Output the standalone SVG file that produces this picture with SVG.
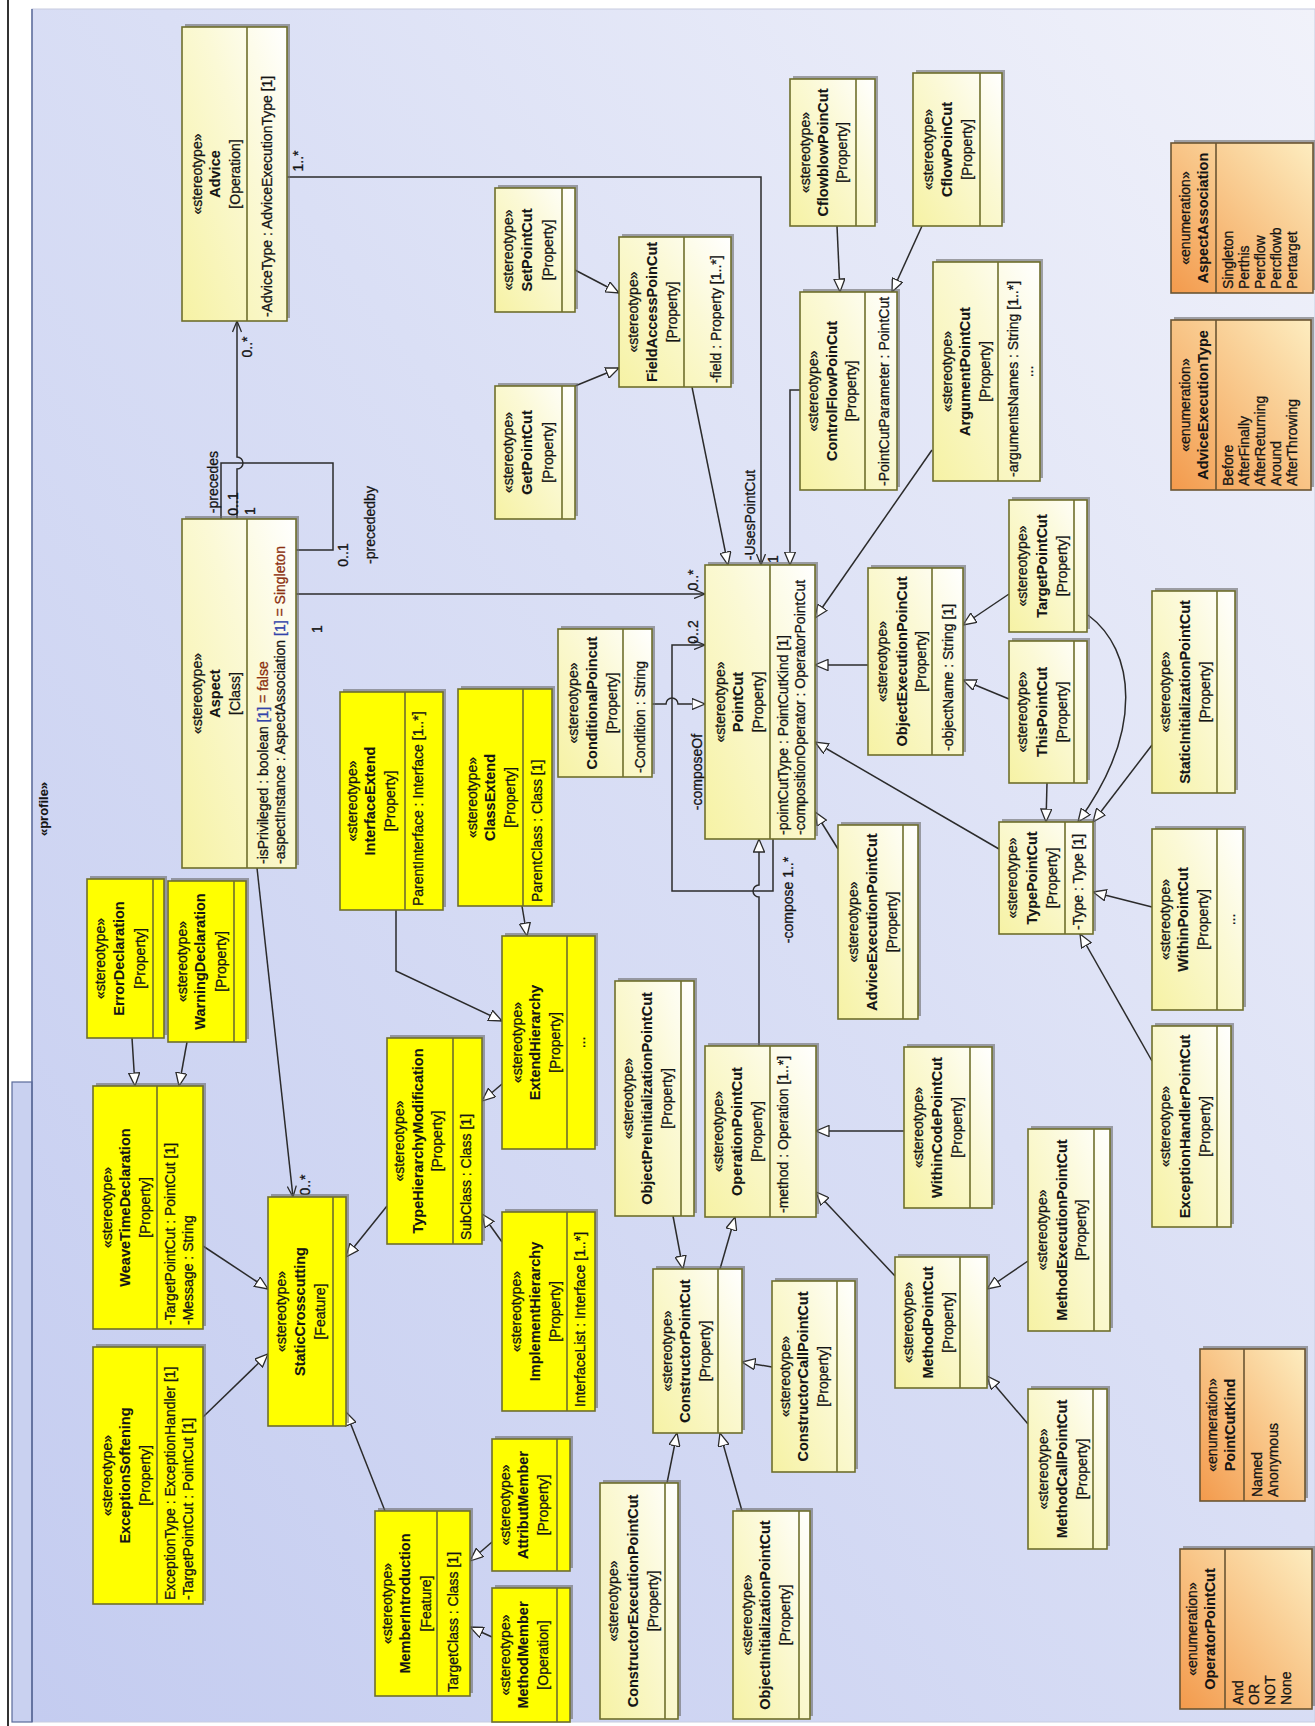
<svg xmlns="http://www.w3.org/2000/svg" width="1315" height="1726" viewBox="0 0 1315 1726">
<defs>
<linearGradient id="bg" x1="0" y1="1" x2="1" y2="0">
<stop offset="0" stop-color="#c4ccf0"/><stop offset="0.55" stop-color="#dadff5"/><stop offset="1" stop-color="#f1f2fa"/>
</linearGradient>
<linearGradient id="gp" x1="0" y1="0" x2="1" y2="1">
<stop offset="0" stop-color="#f6f2a4"/><stop offset="0.6" stop-color="#fbf9d6"/><stop offset="1" stop-color="#ffffff"/>
</linearGradient>
<linearGradient id="ge" x1="0" y1="0" x2="1" y2="1">
<stop offset="0" stop-color="#f39a4c"/><stop offset="0.5" stop-color="#f8c486"/><stop offset="1" stop-color="#fdedc0"/>
</linearGradient>
<marker id="gen" viewBox="0 0 14 12" refX="13.5" refY="6" markerWidth="14" markerHeight="12" markerUnits="userSpaceOnUse" orient="auto">
<path d="M0.5,0.5 L13.5,6 L0.5,11.5 Z" fill="#ffffff" stroke="#2b2b2b" stroke-width="1.3"/>
</marker>
<marker id="opn" viewBox="0 0 12 10" refX="11.5" refY="5" markerWidth="12" markerHeight="10" markerUnits="userSpaceOnUse" orient="auto">
<path d="M0.5,0.5 L11.5,5 L0.5,9.5" fill="none" stroke="#2b2b2b" stroke-width="1.3"/>
</marker>
</defs>
<style>
text{font-family:"Liberation Sans",Arial,sans-serif;font-size:14px;fill:#141414;stroke:#141414;stroke-width:0.3;text-anchor:middle;dominant-baseline:central}
.n{font-weight:bold;font-size:14.5px;stroke-width:0.1}
.a{text-anchor:start}
.sh{fill:#6a6a6a;opacity:.6}
.p{fill:url(#gp);stroke:#6f6f2c;stroke-width:1.6}
.y{fill:#ffff00;stroke:#6f6f2c;stroke-width:1.6}
.e{fill:url(#ge);stroke:#6b5533;stroke-width:1.6}
.d{stroke:#6f6f2c;stroke-width:1.6}
.de{stroke:#6b5533;stroke-width:1.6}
.c{fill:none;stroke:#2b2b2b;stroke-width:1.5}
.g{marker-end:url(#gen)}
.o{marker-end:url(#opn)}
.blue{fill:#3344aa;stroke:#3344aa}
.red{fill:#8b3010;stroke:#8b3010}
</style>

<!-- frame -->
<rect x="0" y="0" width="1315" height="1726" fill="#ffffff"/>
<rect x="32" y="9" width="1283" height="1713" fill="url(#bg)" stroke="#c8cce0" stroke-width="1"/>
<line x1="8" y1="0" x2="8" y2="1726" stroke="#333333" stroke-width="2"/>
<rect x="12" y="1082" width="20" height="640" fill="#c9d1f0" stroke="#5a6a9a" stroke-width="1.2"/>
<line x1="32" y1="9" x2="32" y2="1722" stroke="#5a6a9a" stroke-width="1.5"/>
<text class="n" x="43" y="809" transform="rotate(-90 43 809)" style="font-size:13px">«profile»</text>

<!-- connectors -->
<g id="connectors">
<path class="c g" d="M575,270 L619,293"/>
<path class="c g" d="M575,386 L619,368"/>
<path class="c g" d="M692,387 L728,565"/>
<path class="c g" d="M837,226 L840,292"/>
<path class="c g" d="M922,226 L892,292"/>
<path class="c g" d="M800,390 H790 V565"/>
<path class="c g" d="M932,450 L815,618"/>
<path class="c g" d="M868,665 L815,665"/>
<path class="c g" d="M1009,594 L963,625"/>
<path class="c g" d="M1009,699 L963,680"/>
<path class="c g" d="M1047,783 L1046,822"/>
<path class="c g" d="M1088,615 C1135,650 1145,730 1078,822"/>
<path class="c g" d="M1152,745 L1093,822"/>
<path class="c g" d="M1152,907 L1093,892"/>
<path class="c g" d="M1152,1061 L1080,934"/>
<path class="c g" d="M999,849 L815,742"/>
<path class="c g" d="M838,849 L815,812"/>
<path class="c g" d="M652,704 H666 A6,6 0 0 1 678,704 H705"/>
<path class="c g" d="M759,1046 V897 A6,6 0 0 1 759,885 V839"/>
<path class="c g" d="M904,1131 L816,1131"/>
<path class="c g" d="M895,1276 L816,1192"/>
<path class="c g" d="M1028,1261 L987,1289"/>
<path class="c g" d="M1028,1424 L987,1376"/>
<path class="c g" d="M673,1216 L683,1269"/>
<path class="c g" d="M720,1269 L735,1217"/>
<path class="c g" d="M772,1367 L742,1362"/>
<path class="c g" d="M667,1483 L677,1433"/>
<path class="c g" d="M742,1511 L720,1433"/>
<path class="c g" d="M522,906 L527,936"/>
<path class="c g" d="M396,910 V971 L502,1021"/>
<path class="c g" d="M502,1084 L482,1101"/>
<path class="c g" d="M502,1242 L482,1214"/>
<path class="c g" d="M387,1206 L346,1257"/>
<path class="c g" d="M203,1246 L268,1289"/>
<path class="c g" d="M203,1417 L268,1354"/>
<path class="c g" d="M385,1511 L346,1412"/>
<path class="c g" d="M132,1038 L135,1086"/>
<path class="c g" d="M187,1042 L179,1086"/>
<path class="c g" d="M492,1542 L470,1561"/>
<path class="c g" d="M492,1637 L470,1627"/>
<path class="c o" d="M237,519 V469 A6,6 0 0 0 237,457 V321"/>
<path class="c o" d="M296,594 H705"/>
<path class="c o" d="M287,177 H761 V565"/>
<path class="c" d="M221,519 V463 H333 V550 H296"/>
<path class="c o" d="M773,839 V891 H672 V645 H705"/>
<path class="c o" d="M257,868 L293,1197"/>
<text x="298" y="161" transform="rotate(-90 298 161)">1..*</text>
<text x="247" y="347" transform="rotate(-90 247 347)">0..*</text>
<text x="213" y="482" transform="rotate(-90 213 482)">-precedes</text>
<text x="233" y="504" transform="rotate(-90 233 504)">0..1</text>
<text x="250" y="511" transform="rotate(-90 250 511)">1</text>
<text x="343" y="555" transform="rotate(-90 343 555)">0..1</text>
<text x="370" y="525" transform="rotate(-90 370 525)">-precededby</text>
<text x="317" y="629" transform="rotate(-90 317 629)">1</text>
<text x="693" y="580" transform="rotate(-90 693 580)">0..*</text>
<text x="750" y="515" transform="rotate(-90 750 515)">-UsesPointCut</text>
<text x="773" y="559" transform="rotate(-90 773 559)">1</text>
<text x="693" y="632" transform="rotate(-90 693 632)">0..2</text>
<text x="697" y="772" transform="rotate(-90 697 772)">-composeOf</text>
<text x="788" y="900" transform="rotate(-90 788 900)">-compose 1..*</text>
<text x="305" y="1185" transform="rotate(-90 305 1185)">0..*</text>
</g>

<!-- nodes: local frame x = up along box, y = right -->
<g id="advice" transform="translate(182,321) rotate(-90)">
<rect class="sh" x="3" y="3" width="294" height="105"/><rect class="p" width="294" height="105"/><line class="d" x1="0" y1="65" x2="294" y2="65"/>
<text x="147" y="15">«stereotype»</text><text class="n" x="147" y="33">Advice</text><text x="147" y="53">[Operation]</text>
<text class="a" x="4" y="85">-AdviceType : AdviceExecutionType [1]</text>
</g>
<g id="aspect" transform="translate(182,868) rotate(-90)">
<rect class="sh" x="3" y="3" width="349" height="114"/><rect class="p" width="349" height="114"/><line class="d" x1="0" y1="65" x2="349" y2="65"/>
<text x="174.5" y="15">«stereotype»</text><text class="n" x="174.5" y="33">Aspect</text><text x="174.5" y="53">[Class]</text>
<text class="a" x="4" y="81">-isPrivileged : boolean <tspan class="blue">[1]</tspan> <tspan class="red">= false</tspan></text>
<text class="a" x="4" y="98">-aspectInstance : AspectAssociation <tspan class="blue">[1]</tspan> <tspan class="red">= Singleton</tspan></text>
</g>
<g id="setpointcut" transform="translate(495,312) rotate(-90)">
<rect class="sh" x="3" y="3" width="124" height="80"/><rect class="p" width="124" height="80"/><line class="d" x1="0" y1="67" x2="124" y2="67"/>
<text x="62" y="13">«stereotype»</text><text class="n" x="62" y="32">SetPointCut</text><text x="62" y="53">[Property]</text>
</g>
<g id="getpointcut" transform="translate(495,519) rotate(-90)">
<rect class="sh" x="3" y="3" width="133" height="80"/><rect class="p" width="133" height="80"/><line class="d" x1="0" y1="67" x2="133" y2="67"/>
<text x="66.5" y="13">«stereotype»</text><text class="n" x="66.5" y="32">GetPointCut</text><text x="66.5" y="53">[Property]</text>
</g>
<g id="fieldaccesspoincut" transform="translate(619,387) rotate(-90)">
<rect class="sh" x="3" y="3" width="150" height="112"/><rect class="p" width="150" height="112"/><line class="d" x1="0" y1="65" x2="150" y2="65"/>
<text x="75" y="14">«stereotype»</text><text class="n" x="75" y="33">FieldAccessPoinCut</text><text x="75" y="53">[Property]</text>
<text class="a" x="4" y="97">-field : Property [1..*]</text>
</g>
<g id="cflowblowpoincut" transform="translate(790,226) rotate(-90)">
<rect class="sh" x="3" y="3" width="147" height="85"/><rect class="p" width="147" height="85"/><line class="d" x1="0" y1="66" x2="147" y2="66"/>
<text x="73.5" y="15">«stereotype»</text><text class="n" x="73.5" y="33">CflowblowPoinCut</text><text x="73.5" y="52">[Property]</text>
</g>
<g id="cflowpoincut" transform="translate(913,226) rotate(-90)">
<rect class="sh" x="3" y="3" width="153" height="89"/><rect class="p" width="153" height="89"/><line class="d" x1="0" y1="67" x2="153" y2="67"/>
<text x="76.5" y="15">«stereotype»</text><text class="n" x="76.5" y="34">CflowPoinCut</text><text x="76.5" y="54">[Property]</text>
</g>
<g id="controlflowpoincut" transform="translate(800,490) rotate(-90)">
<rect class="sh" x="3" y="3" width="198" height="97"/><rect class="p" width="198" height="97"/><line class="d" x1="0" y1="65" x2="198" y2="65"/>
<text x="99" y="13">«stereotype»</text><text class="n" x="99" y="32">ControlFlowPoinCut</text><text x="99" y="51">[Property]</text>
<text class="a" x="4" y="84">-PointCutParameter : PointCut</text>
</g>
<g id="argumentpointcut" transform="translate(933,481) rotate(-90)">
<rect class="sh" x="3" y="3" width="219" height="107"/><rect class="p" width="219" height="107"/><line class="d" x1="0" y1="65" x2="219" y2="65"/>
<text x="109.5" y="14">«stereotype»</text><text class="n" x="109.5" y="32">ArgumentPointCut</text><text x="109.5" y="52">[Property]</text>
<text class="a" x="4" y="80">-argumentsNames : String [1..*]</text>
<text x="109.5" y="95">...</text>
</g>
<g id="aspectassociation" transform="translate(1171,293) rotate(-90)">
<rect class="sh" x="3" y="3" width="150" height="142"/><rect class="e" width="150" height="142"/><line class="de" x1="0" y1="45" x2="150" y2="45"/>
<text x="75" y="14">«enumeration»</text><text class="n" x="75" y="32">AspectAssociation</text>
<text class="a" x="4" y="57">Singleton</text><text class="a" x="4" y="73">Perthis</text><text class="a" x="4" y="89">Percflow</text><text class="a" x="4" y="105">Percflowb</text><text class="a" x="4" y="121">Pertarget</text>
</g>
<g id="adviceexecutiontype" transform="translate(1171,490) rotate(-90)">
<rect class="sh" x="3" y="3" width="170" height="140"/><rect class="e" width="170" height="140"/><line class="de" x1="0" y1="45" x2="170" y2="45"/>
<text x="85" y="14">«enumeration»</text><text class="n" x="85" y="32">AdviceExecutionType</text>
<text class="a" x="4" y="57">Before</text><text class="a" x="4" y="73">AfterFinally</text><text class="a" x="4" y="89">AfterReturning</text><text class="a" x="4" y="105">Around</text><text class="a" x="4" y="121">AfterThrowing</text>
</g>
<g id="pointcut" transform="translate(705,839) rotate(-90)">
<rect class="sh" x="3" y="3" width="274" height="110"/><rect class="p" width="274" height="110"/><line class="d" x1="0" y1="65" x2="274" y2="65"/>
<text x="137" y="15">«stereotype»</text><text class="n" x="137" y="33">PointCut</text><text x="137" y="53">[Property]</text>
<text class="a" x="4" y="78">-pointCutType : PointCutKind [1]</text>
<text class="a" x="4" y="95">-compositionOperator : OperatorPointCut</text>
</g>
<g id="conditionalpoincut" transform="translate(558,777) rotate(-90)">
<rect class="sh" x="3" y="3" width="148" height="94"/><rect class="p" width="148" height="94"/><line class="d" x1="0" y1="65" x2="148" y2="65"/>
<text x="74" y="15">«stereotype»</text><text class="n" x="74" y="34">ConditionalPoincut</text><text x="74" y="54">[Property]</text>
<text class="a" x="4" y="82">-Condition : String</text>
</g>
<g id="interfaceextend" transform="translate(340,910) rotate(-90)">
<rect class="sh" x="3" y="3" width="218" height="103"/><rect class="y" width="218" height="103"/><line class="d" x1="0" y1="65" x2="218" y2="65"/>
<text x="109" y="12">«stereotype»</text><text class="n" x="109" y="30">InterfaceExtend</text><text x="109" y="50">[Property]</text>
<text class="a" x="4" y="78">ParentInterface : Interface [1..*]</text>
</g>
<g id="classextend" transform="translate(458,906) rotate(-90)">
<rect class="sh" x="3" y="3" width="217" height="94"/><rect class="y" width="217" height="94"/><line class="d" x1="0" y1="65" x2="217" y2="65"/>
<text x="108.5" y="14">«stereotype»</text><text class="n" x="108.5" y="32">ClassExtend</text><text x="108.5" y="52">[Property]</text>
<text class="a" x="4" y="79">ParentClass : Class [1]</text>
</g>
<g id="objectexecutionpoincut" transform="translate(868,755) rotate(-90)">
<rect class="sh" x="3" y="3" width="187" height="95"/><rect class="p" width="187" height="95"/><line class="d" x1="0" y1="64" x2="187" y2="64"/>
<text x="93.5" y="14">«stereotype»</text><text class="n" x="93.5" y="34">ObjectExecutionPoinCut</text><text x="93.5" y="53">[Property]</text>
<text class="a" x="4" y="80">-objectName : String [1]</text>
</g>
<g id="targetpointcut" transform="translate(1009,632) rotate(-90)">
<rect class="sh" x="3" y="3" width="132" height="78"/><rect class="p" width="132" height="78"/><line class="d" x1="0" y1="65" x2="132" y2="65"/>
<text x="66" y="13">«stereotype»</text><text class="n" x="66" y="33">TargetPointCut</text><text x="66" y="53">[Property]</text>
</g>
<g id="thispointcut" transform="translate(1009,783) rotate(-90)">
<rect class="sh" x="3" y="3" width="142" height="78"/><rect class="p" width="142" height="78"/><line class="d" x1="0" y1="65" x2="142" y2="65"/>
<text x="71" y="13">«stereotype»</text><text class="n" x="71" y="33">ThisPointCut</text><text x="71" y="53">[Property]</text>
</g>
<g id="staticinitializationpointcut" transform="translate(1152,793) rotate(-90)">
<rect class="sh" x="3" y="3" width="202" height="83"/><rect class="p" width="202" height="83"/><line class="d" x1="0" y1="65" x2="202" y2="65"/>
<text x="101" y="13">«stereotype»</text><text class="n" x="101" y="33">StaticInitializationPointCut</text><text x="101" y="53">[Property]</text>
</g>
<g id="typepointcut" transform="translate(999,934) rotate(-90)">
<rect class="sh" x="3" y="3" width="112" height="94"/><rect class="p" width="112" height="94"/><line class="d" x1="0" y1="66" x2="112" y2="66"/>
<text x="56" y="13">«stereotype»</text><text class="n" x="56" y="33">TypePointCut</text><text x="56" y="53">[Property]</text>
<text class="a" x="4" y="79">-Type : Type [1]</text>
</g>
<g id="withinpointcut" transform="translate(1152,1010) rotate(-90)">
<rect class="sh" x="3" y="3" width="181" height="91"/><rect class="p" width="181" height="91"/><line class="d" x1="0" y1="65" x2="181" y2="65"/>
<text x="90.5" y="13">«stereotype»</text><text class="n" x="90.5" y="31">WithinPointCut</text><text x="90.5" y="51">[Property]</text>
<text x="90.5" y="78">...</text>
</g>
<g id="exceptionhandlerpointcut" transform="translate(1152,1227) rotate(-90)">
<rect class="sh" x="3" y="3" width="201" height="79"/><rect class="p" width="201" height="79"/><line class="d" x1="0" y1="65" x2="201" y2="65"/>
<text x="100.5" y="13">«stereotype»</text><text class="n" x="100.5" y="33">ExceptionHandlerPointCut</text><text x="100.5" y="53">[Property]</text>
</g>
<g id="adviceexecutionpointcut" transform="translate(838,1019) rotate(-90)">
<rect class="sh" x="3" y="3" width="194" height="80"/><rect class="p" width="194" height="80"/><line class="d" x1="0" y1="65" x2="194" y2="65"/>
<text x="97" y="15">«stereotype»</text><text class="n" x="97" y="34">AdviceExecutionPointCut</text><text x="97" y="54">[Property]</text>
</g>
<g id="withincodepointcut" transform="translate(904,1208) rotate(-90)">
<rect class="sh" x="3" y="3" width="161" height="88"/><rect class="p" width="161" height="88"/><line class="d" x1="0" y1="66" x2="161" y2="66"/>
<text x="80.5" y="14">«stereotype»</text><text class="n" x="80.5" y="33">WithinCodePointCut</text><text x="80.5" y="53">[Property]</text>
</g>
<g id="operationpointcut" transform="translate(705,1217) rotate(-90)">
<rect class="sh" x="3" y="3" width="171" height="111"/><rect class="p" width="171" height="111"/><line class="d" x1="0" y1="65" x2="171" y2="65"/>
<text x="85.5" y="13">«stereotype»</text><text class="n" x="85.5" y="32">OperationPointCut</text><text x="85.5" y="52">[Property]</text>
<text class="a" x="4" y="78">-method : Operation [1..*]</text>
</g>
<g id="objectpreinitializationpointcut" transform="translate(615,1216) rotate(-90)">
<rect class="sh" x="3" y="3" width="235" height="79"/><rect class="p" width="235" height="79"/><line class="d" x1="0" y1="66" x2="235" y2="66"/>
<text x="117.5" y="13">«stereotype»</text><text class="n" x="117.5" y="32">ObjectPreInitializationPointCut</text><text x="117.5" y="52">[Property]</text>
</g>
<g id="extendhierarchy" transform="translate(502,1149) rotate(-90)">
<rect class="sh" x="3" y="3" width="213" height="93"/><rect class="y" width="213" height="93"/><line class="d" x1="0" y1="65" x2="213" y2="65"/>
<text x="106.5" y="15">«stereotype»</text><text class="n" x="106.5" y="33">ExtendHierarchy</text><text x="106.5" y="53">[Property]</text>
<text x="106.5" y="78">...</text>
</g>
<g id="typehierarchymodification" transform="translate(387,1244) rotate(-90)">
<rect class="sh" x="3" y="3" width="206" height="95"/><rect class="y" width="206" height="95"/><line class="d" x1="0" y1="66" x2="206" y2="66"/>
<text x="103" y="12">«stereotype»</text><text class="n" x="103" y="31">TypeHierarchyModification</text><text x="103" y="50">[Property]</text>
<text class="a" x="4" y="79">SubClass : Class [1]</text>
</g>
<g id="implementhierarchy" transform="translate(502,1411) rotate(-90)">
<rect class="sh" x="3" y="3" width="199" height="93"/><rect class="y" width="199" height="93"/><line class="d" x1="0" y1="65" x2="199" y2="65"/>
<text x="99.5" y="14">«stereotype»</text><text class="n" x="99.5" y="33">ImplementHierarchy</text><text x="99.5" y="53">[Property]</text>
<text class="a" x="4" y="78">InterfaceList : Interface [1..*]</text>
</g>
<g id="constructorpointcut" transform="translate(653,1433) rotate(-90)">
<rect class="sh" x="3" y="3" width="164" height="89"/><rect class="p" width="164" height="89"/><line class="d" x1="0" y1="65" x2="164" y2="65"/>
<text x="82" y="14">«stereotype»</text><text class="n" x="82" y="32">ConstructorPointCut</text><text x="82" y="52">[Property]</text>
</g>
<g id="constructorcallpointcut" transform="translate(772,1472) rotate(-90)">
<rect class="sh" x="3" y="3" width="191" height="83"/><rect class="p" width="191" height="83"/><line class="d" x1="0" y1="65" x2="191" y2="65"/>
<text x="95.5" y="13">«stereotype»</text><text class="n" x="95.5" y="31">ConstructorCallPointCut</text><text x="95.5" y="51">[Property]</text>
</g>
<g id="constructorexecutionpointcut" transform="translate(600,1719) rotate(-90)">
<rect class="sh" x="3" y="3" width="236" height="78"/><rect class="p" width="236" height="78"/><line class="d" x1="0" y1="65" x2="236" y2="65"/>
<text x="118" y="13">«stereotype»</text><text class="n" x="118" y="33">ConstructorExecutionPointCut</text><text x="118" y="53">[Property]</text>
</g>
<g id="objectinitializationpointcut" transform="translate(733,1719) rotate(-90)">
<rect class="sh" x="3" y="3" width="208" height="77"/><rect class="p" width="208" height="77"/><line class="d" x1="0" y1="66" x2="208" y2="66"/>
<text x="104" y="14">«stereotype»</text><text class="n" x="104" y="32">ObjectInitializationPointCut</text><text x="104" y="52">[Property]</text>
</g>
<g id="methodpointcut" transform="translate(895,1388) rotate(-90)">
<rect class="sh" x="3" y="3" width="131" height="92"/><rect class="p" width="131" height="92"/><line class="d" x1="0" y1="65" x2="131" y2="65"/>
<text x="65.5" y="13">«stereotype»</text><text class="n" x="65.5" y="33">MethodPointCut</text><text x="65.5" y="53">[Property]</text>
</g>
<g id="methodexecutionpointcut" transform="translate(1028,1331) rotate(-90)">
<rect class="sh" x="3" y="3" width="202" height="82"/><rect class="p" width="202" height="82"/><line class="d" x1="0" y1="66" x2="202" y2="66"/>
<text x="101" y="14">«stereotype»</text><text class="n" x="101" y="34">MethodExecutionPointCut</text><text x="101" y="53">[Property]</text>
</g>
<g id="methodcallpointcut" transform="translate(1028,1549) rotate(-90)">
<rect class="sh" x="3" y="3" width="160" height="79"/><rect class="p" width="160" height="79"/><line class="d" x1="0" y1="65" x2="160" y2="65"/>
<text x="80" y="15">«stereotype»</text><text class="n" x="80" y="34">MethodCallPointCut</text><text x="80" y="54">[Property]</text>
</g>
<g id="pointcutkind" transform="translate(1200,1501) rotate(-90)">
<rect class="sh" x="3" y="3" width="152" height="105"/><rect class="e" width="152" height="105"/><line class="de" x1="0" y1="44" x2="152" y2="44"/>
<text x="76" y="12">«enumeration»</text><text class="n" x="76" y="30">PointCutKind</text>
<text class="a" x="4" y="57">Named</text><text class="a" x="4" y="73">Anonymous</text>
</g>
<g id="operatorpointcut" transform="translate(1180,1709) rotate(-90)">
<rect class="sh" x="3" y="3" width="160" height="132"/><rect class="e" width="160" height="132"/><line class="de" x1="0" y1="45" x2="160" y2="45"/>
<text x="80" y="12">«enumeration»</text><text class="n" x="80" y="30">OperatorPointCut</text>
<text class="a" x="4" y="58">And</text><text class="a" x="4" y="74">OR</text><text class="a" x="4" y="90">NOT</text><text class="a" x="4" y="106">None</text>
</g>
<g id="memberintroduction" transform="translate(375,1696) rotate(-90)">
<rect class="sh" x="3" y="3" width="185" height="95"/><rect class="y" width="185" height="95"/><line class="d" x1="0" y1="62" x2="185" y2="62"/>
<text x="92.5" y="12">«stereotype»</text><text class="n" x="92.5" y="30">MemberIntroduction</text><text x="92.5" y="51">[Feature]</text>
<text class="a" x="4" y="78">TargetClass : Class [1]</text>
</g>
<g id="attributmember" transform="translate(492,1571) rotate(-90)">
<rect class="sh" x="3" y="3" width="132" height="78"/><rect class="y" width="132" height="78"/><line class="d" x1="0" y1="65" x2="132" y2="65"/>
<text x="66" y="13">«stereotype»</text><text class="n" x="66" y="31">AttributMember</text><text x="66" y="51">[Property]</text>
</g>
<g id="methodmember" transform="translate(492,1722) rotate(-90)">
<rect class="sh" x="3" y="3" width="134" height="78"/><rect class="y" width="134" height="78"/><line class="d" x1="0" y1="65" x2="134" y2="65"/>
<text x="67" y="13">«stereotype»</text><text class="n" x="67" y="31">MethodMember</text><text x="67" y="51">[Operation]</text>
</g>
<g id="staticcrosscutting" transform="translate(268,1426) rotate(-90)">
<rect class="sh" x="3" y="3" width="229" height="78"/><rect class="y" width="229" height="78"/><line class="d" x1="0" y1="65" x2="229" y2="65"/>
<text x="114.5" y="13">«stereotype»</text><text class="n" x="114.5" y="32">StaticCrosscutting</text><text x="114.5" y="52">[Feature]</text>
</g>
<g id="exceptionsoftening" transform="translate(93,1604) rotate(-90)">
<rect class="sh" x="3" y="3" width="257" height="110"/><rect class="y" width="257" height="110"/><line class="d" x1="0" y1="64" x2="257" y2="64"/>
<text x="128.5" y="14">«stereotype»</text><text class="n" x="128.5" y="32">ExceptionSoftening</text><text x="128.5" y="52">[Property]</text>
<text class="a" x="4" y="77">ExceptionType : ExceptionHandler [1]</text>
<text class="a" x="4" y="95">-TargetPointCut : PointCut [1]</text>
</g>
<g id="weavetimedeclaration" transform="translate(93,1329) rotate(-90)">
<rect class="sh" x="3" y="3" width="243" height="110"/><rect class="y" width="243" height="110"/><line class="d" x1="0" y1="64" x2="243" y2="64"/>
<text x="121.5" y="14">«stereotype»</text><text class="n" x="121.5" y="32">WeaveTimeDeclaration</text><text x="121.5" y="52">[Property]</text>
<text class="a" x="4" y="77">-TargetPointCut : PointCut [1]</text>
<text class="a" x="4" y="95">-Message : String</text>
</g>
<g id="errordeclaration" transform="translate(87,1038) rotate(-90)">
<rect class="sh" x="3" y="3" width="159" height="77"/><rect class="y" width="159" height="77"/><line class="d" x1="0" y1="66" x2="159" y2="66"/>
<text x="79.5" y="13">«stereotype»</text><text class="n" x="79.5" y="32">ErrorDeclaration</text><text x="79.5" y="53">[Property]</text>
</g>
<g id="warningdeclaration" transform="translate(168,1042) rotate(-90)">
<rect class="sh" x="3" y="3" width="161" height="78"/><rect class="y" width="161" height="78"/><line class="d" x1="0" y1="66" x2="161" y2="66"/>
<text x="80.5" y="14">«stereotype»</text><text class="n" x="80.5" y="32">WarningDeclaration</text><text x="80.5" y="53">[Property]</text>
</g>
</svg>
